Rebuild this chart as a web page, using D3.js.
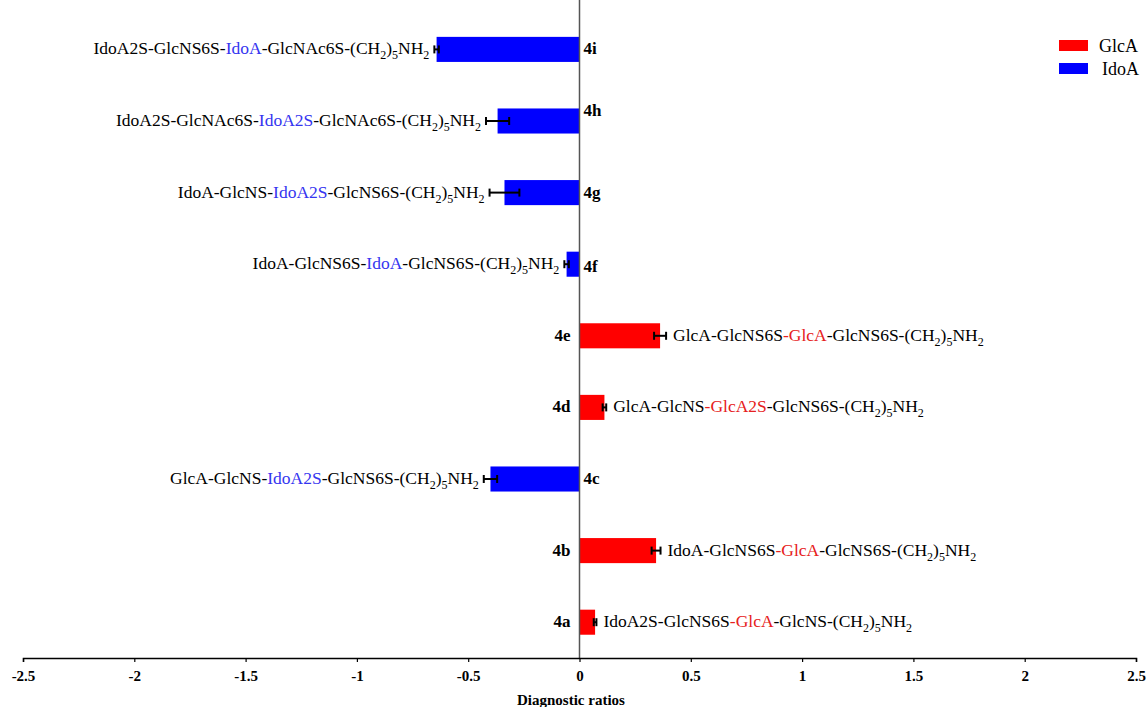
<!DOCTYPE html>
<html>
<head>
<meta charset="utf-8">
<script src="https://cdn.jsdelivr.net/npm/d3@7"></script>
<style>
  html, body { margin: 0; padding: 0; background: #fff; }
  svg { display: block; }
  svg text { font-family: "Liberation Serif", "Times New Roman", "DejaVu Serif", serif !important; }
</style>
</head>
<body>
<svg id="chart" width="1146" height="707"></svg>
<script>
// ---------------- data ----------------
const codes = ["4a", "4b", "4c", "4d", "4e", "4f", "4g", "4h", "4i"];
const values = [0.07, 0.344, -0.40, 0.112, 0.362, -0.058, -0.337, -0.368, -0.642];
const errors = [0.006, 0.02, 0.03, 0.008, 0.027, 0.01, 0.067, 0.052, 0.01];
const uronic = ["GlcA", "GlcA", "IdoA", "GlcA", "GlcA", "IdoA", "IdoA", "IdoA", "IdoA"];
const labelPrefix = ["IdoA2S-GlcNS6S", "IdoA-GlcNS6S", "GlcA-GlcNS-", "GlcA-GlcNS", "GlcA-GlcNS6S",
                     "IdoA-GlcNS6S-", "IdoA-GlcNS-", "IdoA2S-GlcNAc6S-", "IdoA2S-GlcNS6S-"];
const labelHighlight = ["-GlcA", "-GlcA", "IdoA2S", "-GlcA2S", "-GlcA", "IdoA", "IdoA2S", "IdoA2S", "IdoA"];
const labelSuffix = ["-GlcNS-", "-GlcNS6S-", "-GlcNS6S-", "-GlcNS6S-", "-GlcNS6S-",
                     "-GlcNS6S-", "-GlcNS6S-", "-GlcNAc6S-", "-GlcNAc6S-"];
const legendKeys = ["GlcA", "IdoA"];
const xTicks = [-2.5, -2, -1.5, -1, -0.5, 0, 0.5, 1, 1.5, 2, 2.5];
const xTickLabels = ["-2.5", "-2", "-1.5", "-1", "-0.5", "0", "0.5", "1", "1.5", "2", "2.5"];
const xTitle = "Diagnostic ratios";

// ---------------- styles ----------------
const FONT = "'Liberation Serif', 'Times New Roman', serif";
const barColor = { GlcA: "#ff0000", IdoA: "#0000ff" };
const textColor = { GlcA: "#e62020", IdoA: "#3535f0" };
const codeShift = { "4h": -10, "4f": 3 };

const svg = d3.select("#chart").attr("font-family", FONT);
const x = d3.scaleLinear().domain([-2.5, 2.5]).range([23, 1136]);
const y = d3.scaleBand().domain(codes).range([658, 13.6]).paddingInner(0.65).paddingOuter(0.325);

const rows = codes.map((c, i) => ({
  code: c, v: values[i], e: errors[i], type: uronic[i],
  pre: labelPrefix[i], hi: labelHighlight[i], suf: labelSuffix[i]
}));

// bars
svg.append("g").selectAll("rect").data(rows).join("rect")
  .attr("x", d => x(Math.min(0, d.v)))
  .attr("y", d => y(d.code))
  .attr("width", d => Math.abs(x(d.v) - x(0)))
  .attr("height", y.bandwidth())
  .attr("fill", d => barColor[d.type]);

// vertical zero line
svg.append("line")
  .attr("x1", x(0)).attr("x2", x(0)).attr("y1", 0).attr("y2", 658)
  .attr("stroke", "#555").attr("stroke-width", 1.5);

// error bars
const eb = svg.append("g").attr("stroke", "#000").attr("stroke-width", 2);
rows.forEach(d => {
  const cy = y(d.code) + y.bandwidth() / 2;
  const x1 = x(d.v - d.e), x2 = x(d.v + d.e);
  eb.append("line").attr("x1", x1).attr("x2", x2).attr("y1", cy).attr("y2", cy);
  [x1, x2].forEach(xx => eb.append("line").attr("x1", xx).attr("x2", xx).attr("y1", cy - 4).attr("y2", cy + 4));
});

// x axis
const axis = d3.axisBottom(x).tickValues(xTicks).tickSize(4)
  .tickFormat((d, i) => xTickLabels[i]);
const gx = svg.append("g").attr("transform", "translate(0,658)").call(axis)
  .attr("font-family", FONT);
gx.select(".domain").attr("stroke", "#000").attr("stroke-width", 1.5);
gx.selectAll(".tick line").attr("stroke", "#000").attr("stroke-width", 1.2);
gx.selectAll(".tick text")
  .attr("font-weight", "bold")
  .attr("font-size", 15).attr("fill", "#000").attr("dy", "1.05em");

svg.append("text").attr("x", 571).attr("y", 705).attr("text-anchor", "middle")
  .attr("font-weight", "bold").attr("font-size", 15).text(xTitle);

// compound labels
function addLabel(d) {
  const cy = y(d.code) + y.bandwidth() / 2;
  const neg = d.v < 0;
  const t = svg.append("text")
    .attr("font-size", 17.5).attr("fill", "#000")
    .attr("y", cy + 5)
    .attr("x", neg ? x(d.v - d.e) - 5 : x(d.v + d.e) + 7)
    .attr("text-anchor", neg ? "end" : "start");
  t.append("tspan").text(d.pre);
  t.append("tspan").attr("fill", textColor[d.type]).text(d.hi);
  t.append("tspan").text(d.suf + "(CH");
  t.append("tspan").attr("font-size", 12).attr("dy", 5).text("2");
  t.append("tspan").attr("dy", -5).text(")");
  t.append("tspan").attr("font-size", 12).attr("dy", 5).text("5");
  t.append("tspan").attr("dy", -5).text("NH");
  t.append("tspan").attr("font-size", 12).attr("dy", 5).text("2");
}
rows.forEach(addLabel);

// code labels
svg.append("g").selectAll("text").data(rows).join("text")
  .attr("x", d => d.v < 0 ? x(0) + 4 : x(0) - 9)
  .attr("y", d => y(d.code) + y.bandwidth() / 2 + 5 + (codeShift[d.code] || 0))
  .attr("text-anchor", d => d.v < 0 ? "start" : "end")
  .attr("font-weight", "bold").attr("font-size", 17)
  .text(d => d.code);

// legend
const lg = svg.append("g");
legendKeys.forEach((k, i) => {
  lg.append("rect").attr("x", 1059).attr("y", 40 + i * 23).attr("width", 29).attr("height", 11)
    .attr("fill", barColor[k]);
  lg.append("text").attr("x", k === "GlcA" ? 1099 : 1102).attr("y", 51.5 + i * 23)
    .attr("font-size", 18).text(k);
});
</script>
</body>
</html>
